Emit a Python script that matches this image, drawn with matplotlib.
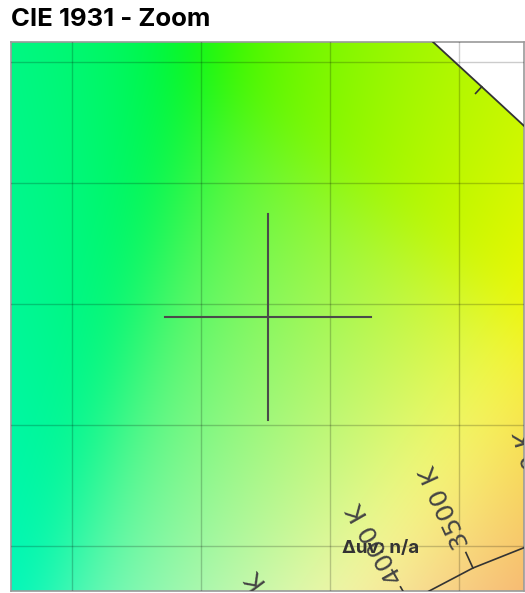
#CIE 1931 chromaticity diagram, zoomed window around a measured point
import numpy as np
import matplotlib.pyplot as plt

# view window in xy
x_range = (0.2262, 0.4251)
y_range = (0.3812, 0.6081)
grid_x = [0.25, 0.30, 0.35, 0.40]
grid_y = [0.40, 0.45, 0.50, 0.55, 0.60]

# measured point (crosshair) and crosshair half length
measured_xy = (0.3259, 0.4944)
cross_half = (0.040, 0.0426)

# spectral locus, CIE 1931 2 deg
locus_nm = [550, 555, 560, 565, 570, 575]
locus_x = [0.3016, 0.3373, 0.3731, 0.4087, 0.4441, 0.4788]
locus_y = [0.6923, 0.6589, 0.6245, 0.5896, 0.5547, 0.5202]
locus_ticks = [565]

# planckian locus
cct_k = [2500, 3000, 3500, 4000, 4500, 5000, 5500, 6000, 6500]
cct_x = [0.4770, 0.4369, 0.4053, 0.3805, 0.3608, 0.3451, 0.3324, 0.3221, 0.3135]
cct_y = [0.4137, 0.4041, 0.3907, 0.3768, 0.3636, 0.3516, 0.3411, 0.3318, 0.3237]
cct_labels = [2500, 3000, 3500, 4000, 5000, 6500]

duv_text = 'Δuv: n/a'


def xy_to_srgb(x, y):
    X = x / y
    Y = np.ones_like(x)
    Z = (1 - x - y) / y
    r = 3.2406 * X - 1.5372 * Y - 0.4986 * Z
    g = (-0.9689 * X + 1.8758 * Y + 0.0415 * Z) * 1.2
    b = (0.0557 * X - 0.2040 * Y + 1.0570 * Z) * 0.85
    rgb = np.stack([r, g, b], axis=-1)
    # pull out-of-gamut colours towards white instead of clipping
    rgb = rgb - np.minimum(rgb.min(axis=-1, keepdims=True), 0)
    rgb = rgb / rgb.max(axis=-1, keepdims=True)
    rgb = np.where(rgb <= 0.0031308, 12.92 * rgb, 1.055 * rgb ** (1 / 2.4) - 0.055)
    return np.clip(rgb * 0.97, 0, 1)


def soften(img, s):
    r = int(3 * s)
    k = np.exp(-0.5 * (np.arange(-r, r + 1) / s) ** 2)
    k /= k.sum()
    p = np.pad(img, ((r, r), (r, r), (0, 0)), mode='edge')
    p = np.apply_along_axis(lambda v: np.convolve(v, k, 'valid'), 0, p)
    p = np.apply_along_axis(lambda v: np.convolve(v, k, 'valid'), 1, p)
    return p


fig = plt.figure(figsize=(5.25, 5.93), dpi=100)
ax = fig.add_axes([11 / 525, 2 / 593, 513 / 525, 549 / 593])

# background colours (computed a bit past the window, then smoothed)
bg_x = (0.18, 0.47)
bg_y = (0.34, 0.65)
gx, gy = np.meshgrid(np.arange(bg_x[0], bg_x[1], 0.0015),
                     np.arange(bg_y[0], bg_y[1], 0.0015))
bg = np.clip(soften(xy_to_srgb(gx, gy), 8), 0, 1)
ax.imshow(bg, extent=(gx.min(), gx.max(), gy.min(), gy.max()), origin='lower',
          aspect='auto', interpolation='bilinear', zorder=0)
ax.set_xlim(*x_range)
ax.set_ylim(*y_range)

# white outside the spectral locus
outside = list(zip(locus_x, locus_y)) + [(0.7, locus_y[-1]), (0.7, 0.9), (locus_x[0], 0.9)]
ax.add_patch(plt.Polygon(outside, closed=True, facecolor='white', edgecolor='none', zorder=1))
ax.plot(locus_x, locus_y, color='#333333', lw=1.3, zorder=3)

ax.set_xticks(grid_x)
ax.set_yticks(grid_y)
ax.tick_params(length=0, labelbottom=False, labelleft=False)
ax.grid(True, color='black', alpha=0.2, lw=1, zorder=2)
ax.set_axisbelow(False)
for s in ax.spines.values():
    s.set_color('#9a9a9a')
    s.set_linewidth(1.2)

to_disp = ax.transData.transform
to_data = ax.transData.inverted().transform


def normal_at(xs, ys, i, side):
    # unit normal in display pixels at point i
    j0, j1 = max(i - 1, 0), min(i + 1, len(xs) - 1)
    p0 = to_disp((xs[j0], ys[j0]))
    p1 = to_disp((xs[j1], ys[j1]))
    t = (p1 - p0) / np.hypot(*(p1 - p0))
    return np.array([-t[1], t[0]]) * side


# wavelength ticks
for nm in locus_ticks:
    i = locus_nm.index(nm)
    p = to_disp((locus_x[i], locus_y[i]))
    n = normal_at(locus_x, locus_y, i, -1)
    a, b = to_data(p), to_data(p + n * 9)
    ax.plot([a[0], b[0]], [a[1], b[1]], color='#333333', lw=1.2, zorder=3)

# planckian locus with temperature ticks and labels
ax.plot(cct_x, cct_y, color='#333333', lw=1.2, zorder=3)
for k in cct_labels:
    i = cct_k.index(k)
    p = to_disp((cct_x[i], cct_y[i]))
    n = normal_at(cct_x, cct_y, i, -1)
    a, b = to_data(p), to_data(p + n * 17)
    ax.plot([a[0], b[0]], [a[1], b[1]], color='#333333', lw=1.2, zorder=3)
    t = to_data(p + n * 23)
    ang = np.degrees(np.arctan2(n[1], n[0]))
    ax.text(t[0], t[1], f'{k} K', rotation=ang, rotation_mode='anchor',
            ha='left', va='center', fontsize=18, color='#444444',
            clip_on=True, zorder=4)

# crosshair on the measured point
mx, my = measured_xy
ax.plot([mx - cross_half[0], mx + cross_half[0]], [my, my], color='#4a4a4a', lw=1.5, zorder=5)
ax.plot([mx, mx], [my - cross_half[1], my + cross_half[1]], color='#4a4a4a', lw=1.5, zorder=5)

ax.text(0.646, 0.078, duv_text, transform=ax.transAxes, fontsize=13.5, family='Inter',
        fontweight='bold', color='#333333', ha='left', va='center', zorder=6)

fig.text(11 / 525, 1 - 26 / 593, 'CIE 1931 - Zoom', fontsize=18.5, fontweight='bold',
         family='Inter', ha='left', va='baseline')

fig.savefig('out.png', dpi=100)
